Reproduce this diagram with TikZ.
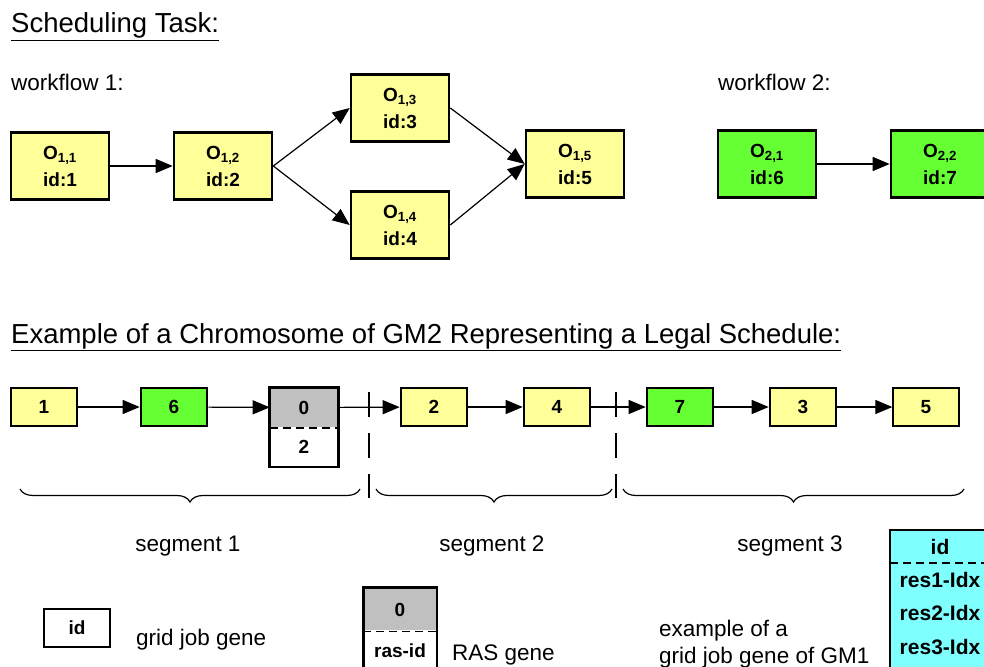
\documentclass[tikz,border=0pt]{standalone}
\usepackage{fontspec}
\setmainfont{Liberation Sans}
\usetikzlibrary{arrows.meta,decorations.pathreplacing,positioning}
\definecolor{jobyellow}{HTML}{FFFF99}
\definecolor{jobgreen}{HTML}{66FF33}
\definecolor{rasgray}{HTML}{C0C0C0}
\definecolor{gmcyan}{HTML}{80FFFF}
\newcommand{\opname}[2]{O\textsubscript{#1,#2}}
\begin{document}
\begin{tikzpicture}[x=1pt,y=-1pt,
	op/.style={draw,line width=2.6,fill=jobyellow,minimum width=98,minimum height=67,
	align=center,font=\bfseries\fontsize{19}{27}\selectfont},
	gene/.style={draw,line width=2.6,fill=jobyellow,minimum width=66,minimum height=38,
	inner sep=0,font=\bfseries\fontsize{19}{22}\selectfont},
	cell/.style={inner sep=0,minimum width=100,minimum height=33,font=\bfseries\fontsize{21}{24}\selectfont},
	wftwo/.style={fill=jobgreen},
	link/.style={-{Triangle[length=17,width=14]},line width=1.2},
	split/.style={line width=1.4,dash pattern=on 8 off 5},
	title/.style={anchor=base west,inner sep=0,font=\fontsize{27.5}{30}\selectfont},
	txt/.style={anchor=base west,inner sep=0,font=\fontsize{22.5}{27}\selectfont},
	seg/.style={decorate,decoration={brace,mirror,amplitude=13},line width=1.2},
	cut/.style={line width=1.2,dash pattern=on 25 off 16}]
\useasboundingbox (0,0) rectangle (984,666);
\clip (0,0) rectangle (984,666);

% scheduling task
\node[title] (t1) at (11,33) {\underline{Scheduling Task:}};
\node[txt] (w1) at (11,91) {workflow 1:};
\node[txt] (w2) at (718,91) {workflow 2:};

\node[op] (o11) at (60,166) {\opname{1}{1}\\id:1};
\node[op] (o12) at (223,166) {\opname{1}{2}\\id:2};
\node[op] (o13) at (400,108) {\opname{1}{3}\\id:3};
\node[op] (o14) at (400,225) {\opname{1}{4}\\id:4};
\node[op] (o15) at (575,164) {\opname{1}{5}\\id:5};
\node[op,wftwo] (o21) at (767,164) {\opname{2}{1}\\id:6};
\node[op,wftwo] (o22) at (940,164) {\opname{2}{2}\\id:7};

\draw[link] (o11) -- (o12);
\draw[link] (o12.east) -- (o13.west);
\draw[link] (o12.east) -- (o14.west);
\draw[link] (o13.east) -- (o15.west);
\draw[link] (o14.east) -- (o15.west);
\draw[link] (o21) -- (o22);

% chromosome
\node[title] (t2) at (11,343) {\underline{Example of a Chromosome of GM2 Representing a Legal Schedule:}};

\node[gene] (g1) at (44,407) {1};
\node[gene,wftwo] (g6) at (174,407) {6};
\node[gene,fill=rasgray,draw=none] (g0) at (304,407.5) {0};
\node[gene,fill=white,draw=none] (g0r) at (304,446.5) {2};
\draw[line width=2.6] (g0.north west) rectangle (g0r.south east);
\draw[split] (g0.south west) -- (g0.south east);
\node[gene] (g2) at (434,407) {2};
\node[gene] (g4) at (557,407) {4};
\node[gene,wftwo] (g7) at (680,407) {7};
\node[gene] (g3) at (803,407) {3};
\node[gene,line width=1.3] (g5) at (926,407) {5};

\draw[link] (g1) -- (g6);
\draw[link] (g6) -- (g0);
\draw[link] (g0) -- (g2);
\draw[link] (g2) -- (g4);
\draw[link] (g4) -- (g7);
\draw[link] (g7) -- (g3);
\draw[link] (g3) -- (g5);

\draw[cut] (369,392) -- (369,498);
\draw[cut] (616,392) -- (616,498);

\draw[seg] (20,489) -- (360,489);
\draw[seg] (376,489) -- (612,489);
\draw[seg] (623,489) -- (964,489);
\node[txt,anchor=base] (s1) at (188,551) {segment 1};
\node[txt,anchor=base] (s2) at (492,551) {segment 2};
\node[txt,anchor=base] (s3) at (790,551) {segment 3};

% legend
\node[gene,fill=white] (lid) at (77,628) {id};
\node[txt] (lidt) at (136,645) {grid job gene};

\node[gene,fill=rasgray,draw=none,minimum width=71,minimum height=41] (lr0) at (400,609.5) {0};
\node[gene,fill=white,draw=none,minimum width=71,minimum height=41] (lr1) at (400,650.5) {ras-id};
\draw[line width=2.6] (lr0.north west) rectangle (lr1.south east);
\draw[split] (lr0.south west) -- (lr0.south east);
\node[txt] (lrt) at (452,660) {RAS gene};

\node[txt,align=left,anchor=base west] (lgm) at (659,663) {example of a\\grid job gene of GM1};

\fill[gmcyan] (890,530) rectangle (995,690);
\node[cell] (cid) at (940,546.5) {id};
\node[cell,below=0 of cid] (cr1) {res1-Idx};
\node[cell,below=0 of cr1] (cr2) {res2-Idx};
\node[cell,below=0 of cr2] (cr3) {res3-Idx};
\draw[line width=2.6] (890,530) rectangle (995,690);
\draw[split] (890,563) -- (995,563);
\end{tikzpicture}
\end{document}
